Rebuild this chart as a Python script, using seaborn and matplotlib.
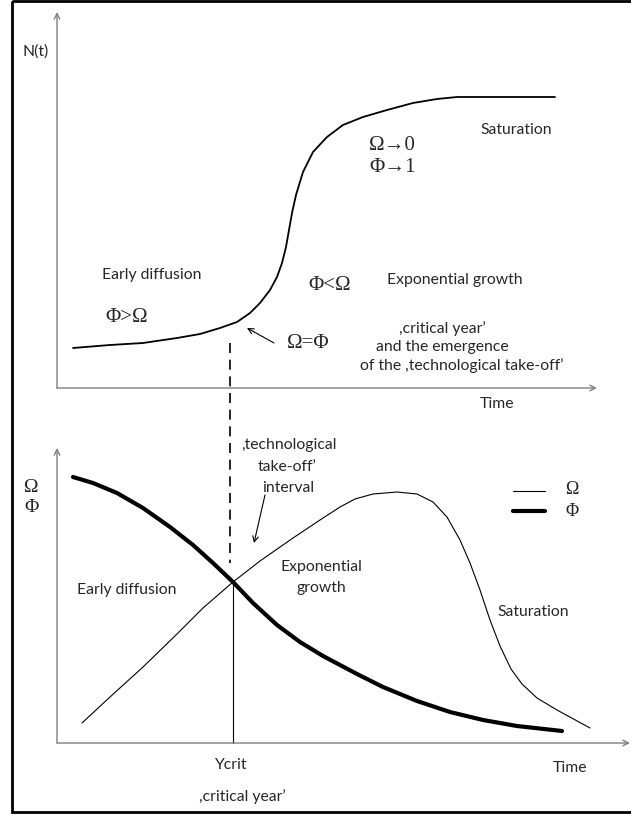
import numpy as np
import pandas as pd
import matplotlib
matplotlib.use("Agg")
import matplotlib.pyplot as plt
import seaborn as sns
from matplotlib.patches import Rectangle

# curve points, in picture pixel units (x right, y down)
n_x = [73, 110, 143, 177, 200, 220, 237, 250, 260, 270, 277, 282, 286, 289, 292, 296,
       303, 313, 327, 343, 363, 387, 413, 437, 457, 500, 555]
n_y = [348, 345, 343, 338, 334, 328, 322, 313, 303, 290, 277, 263, 247, 230, 213, 195,
       172, 152, 137, 125, 117, 110, 103, 99, 97, 97, 97]

phi_x = [73, 93, 117, 143, 170, 193, 213, 233, 253, 277, 300, 323, 340, 357, 383, 417,
         450, 483, 517, 562]
phi_y = [477, 483, 493, 508, 527, 545, 563, 582, 603, 625, 642, 656, 665, 674, 687, 701,
         712, 720, 726, 731]

omega_x = [82, 110, 143, 177, 203, 233, 260, 293, 320, 340, 355, 373, 397, 417, 433,
           447, 460, 470, 480, 490, 500, 511, 522, 537, 557, 590]
omega_y = [723, 697, 667, 634, 608, 582, 561, 538, 520, 507, 499, 494, 492, 494, 502,
           517, 540, 563, 590, 620, 646, 669, 684, 698, 710, 728]

y_crit = 233

sns.set_style("white")
sans = ["Lato", "DejaVu Sans"]
serif = ["Liberation Serif", "DejaVu Serif"]

fig = plt.figure(figsize=(6.31, 8.14), dpi=100)
ax = fig.add_axes([0, 0, 1, 1])

ax.add_patch(Rectangle((12, 1), 622, 811, fill=False, lw=2, ec="black"))

grey = "#7f7f7f"
arrow = dict(arrowstyle="->", color=grey, lw=1, shrinkA=0, shrinkB=0)
# top axes
ax.annotate("", xy=(57, 12), xytext=(57, 388), arrowprops=arrow)
ax.annotate("", xy=(597, 388), xytext=(57, 388), arrowprops=arrow)
# bottom axes
ax.annotate("", xy=(57, 448), xytext=(57, 743), arrowprops=arrow)
ax.annotate("", xy=(630, 743), xytext=(57, 743), arrowprops=arrow)

top = pd.DataFrame({"x": n_x, "y": n_y})
sns.lineplot(data=top, x="x", y="y", sort=False, color="black", lw=1.3, ax=ax)
low_phi = pd.DataFrame({"x": phi_x, "y": phi_y})
sns.lineplot(data=low_phi, x="x", y="y", sort=False, color="black", lw=3, ax=ax)
low_om = pd.DataFrame({"x": omega_x, "y": omega_y})
sns.lineplot(data=low_om, x="x", y="y", sort=False, color="black", lw=0.8, ax=ax)
ax.set_xlim(0, 631)
ax.set_ylim(814, 0)
ax.axis("off")

ax.plot([y_crit - 3, y_crit - 3], [343, 563], ls=(0, (6, 4)), color="black", lw=1.2)
ax.plot([y_crit, y_crit], [582, 743], color="black", lw=0.8)

thin_arrow = dict(arrowstyle="->", color="black", lw=0.8, shrinkA=0, shrinkB=0)
ax.annotate("", xy=(247, 328), xytext=(274, 343), arrowprops=thin_arrow)
ax.annotate("", xy=(254, 543), xytext=(265, 495), arrowprops=thin_arrow)

# legend
ax.plot([513, 545], [491, 491], color="black", lw=0.8)
ax.plot([513, 545], [511, 511], color="black", lw=3)

fs = 11.3
def txt(x, y, s, ha="left", font=sans, size=fs):
    ax.text(x, y, s, ha=ha, va="center", family=font, fontsize=size)

txt(22, 52, "N(t)")
txt(102, 275, "Early diffusion")
txt(105, 318, "Φ>Ω", font=serif, size=15)
txt(308, 286, "Φ<Ω", font=serif, size=15)
txt(387, 280, "Exponential growth")
txt(480, 130, "Saturation")
txt(369, 145, "Ω→0", font=serif, size=15)
txt(369, 168, "Φ→1", font=serif, size=15)
txt(287, 344, "Ω=Φ", font=serif, size=15)
txt(442, 329, ",critical year’", ha="center")
txt(442, 347, "and the emergence", ha="center")
txt(462, 366, "of the ,technological take-off’", ha="center")
txt(480, 404, "Time")

txt(24, 487, "Ω", font=serif, size=14)
txt(24, 508, "Φ", font=serif, size=14)
txt(289, 445, ",technological", ha="center")
txt(287, 467, "take-off’", ha="center")
txt(288, 488, "interval", ha="center")
txt(321, 567, "Exponential", ha="center")
txt(321, 588, "growth", ha="center")
txt(77, 590, "Early diffusion")
txt(497, 612, "Saturation")
txt(565, 490, "Ω", font=serif, size=13)
txt(565, 511, "Φ", font=serif, size=13)
txt(230, 765, "Ycrit", ha="center")
txt(242, 797, ",critical year’", ha="center")
txt(553, 768, "Time")

fig.savefig("out.png", dpi=100)
